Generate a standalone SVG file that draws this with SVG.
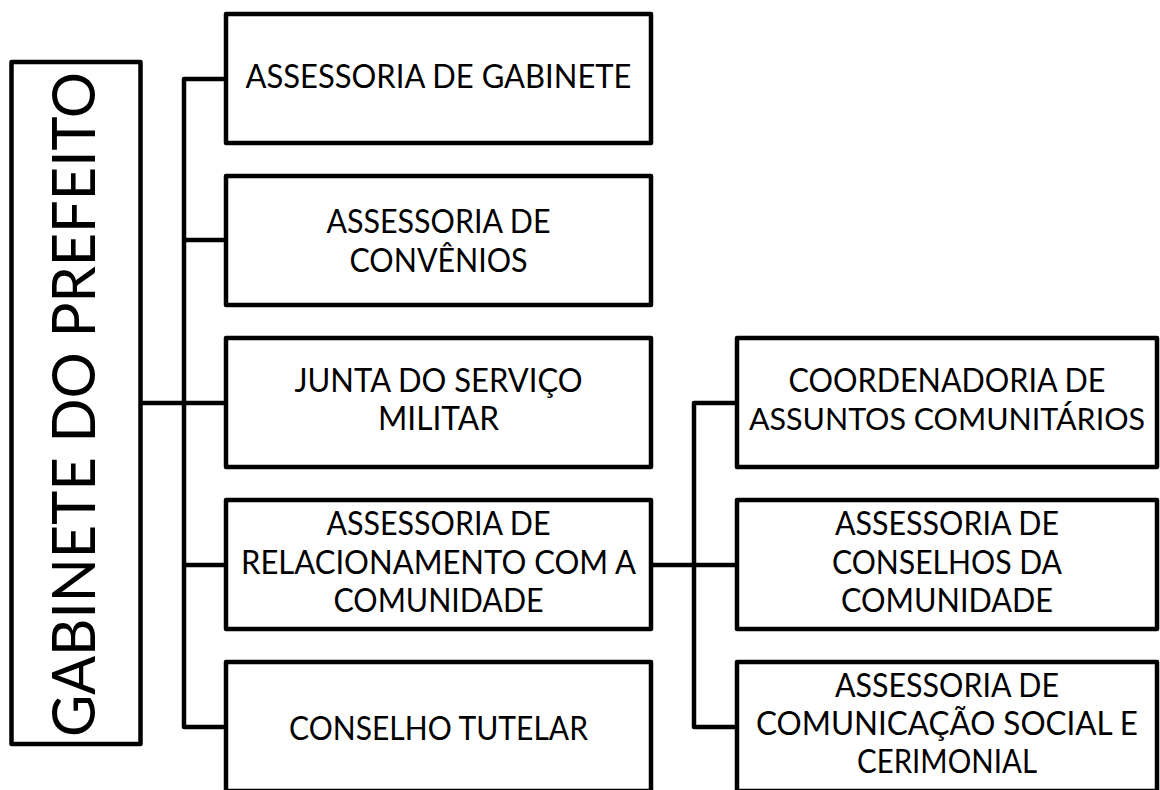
<svg xmlns="http://www.w3.org/2000/svg" width="1160" height="790" viewBox="0 0 1160 790">
<style>
.box{fill:#fff;stroke:#000;stroke-width:4.5;stroke-linejoin:round}
.conn{fill:none;stroke:#000;stroke-width:4.5;stroke-linejoin:round}
.t{font-family:Lato,"Open Sans","Liberation Sans",sans-serif;font-size:33px;fill:#000;text-anchor:middle}
.big{font-family:Lato,"Open Sans","Liberation Sans",sans-serif;font-size:60px;fill:#000;text-anchor:middle}
</style>
<rect width="1160" height="790" fill="#fff"/>
<g id="connectors">
<path class="conn" d="M226,79 H184 V727 H226"/>
<path class="conn" d="M184,240 H226"/>
<path class="conn" d="M140,403 H226"/>
<path class="conn" d="M184,565 H226"/>
<path class="conn" d="M737,403 H694 V727 H737"/>
<path class="conn" d="M651,565 H737"/>
</g>
<g id="gabinete-prefeito">
<rect class="box" x="11.5" y="62" width="129" height="682"/>
<text class="big" transform="translate(95,404.5) rotate(-90)" textLength="665" lengthAdjust="spacingAndGlyphs">GABINETE DO PREFEITO</text>
</g>
<g id="assessoria-gabinete">
<rect class="box" x="226" y="14" width="425" height="129"/>
<text class="t" x="438.5" y="88" textLength="386" lengthAdjust="spacingAndGlyphs">ASSESSORIA DE GABINETE</text>
</g>
<g id="assessoria-convenios">
<rect class="box" x="226" y="176" width="425" height="129"/>
<text class="t" x="438.5" y="233" textLength="224" lengthAdjust="spacingAndGlyphs">ASSESSORIA DE</text>
<text class="t" x="438.5" y="272" textLength="178" lengthAdjust="spacingAndGlyphs">CONVÊNIOS</text>
</g>
<g id="junta-servico-militar">
<rect class="box" x="226" y="338" width="425" height="129"/>
<text class="t" x="438.5" y="392" textLength="288" lengthAdjust="spacingAndGlyphs">JUNTA DO SERVIÇO</text>
<text class="t" x="438.5" y="430" textLength="121" lengthAdjust="spacingAndGlyphs">MILITAR</text>
</g>
<g id="assessoria-relacionamento">
<rect class="box" x="226" y="500" width="425" height="129"/>
<text class="t" x="438.5" y="535" textLength="224" lengthAdjust="spacingAndGlyphs">ASSESSORIA DE</text>
<text class="t" x="438.5" y="573.5" textLength="395" lengthAdjust="spacingAndGlyphs">RELACIONAMENTO COM A</text>
<text class="t" x="438.5" y="612" textLength="210" lengthAdjust="spacingAndGlyphs">COMUNIDADE</text>
</g>
<g id="conselho-tutelar">
<rect class="box" x="226" y="662" width="425" height="129"/>
<text class="t" x="438.5" y="740" textLength="299" lengthAdjust="spacingAndGlyphs">CONSELHO TUTELAR</text>
</g>
<g id="coordenadoria-assuntos">
<rect class="box" x="737" y="338" width="420" height="129"/>
<text class="t" x="947" y="392" textLength="317" lengthAdjust="spacingAndGlyphs">COORDENADORIA DE</text>
<text class="t" x="947" y="430" style="font-size:30px" textLength="396" lengthAdjust="spacingAndGlyphs">ASSUNTOS COMUNITÁRIOS</text>
</g>
<g id="assessoria-conselhos">
<rect class="box" x="737" y="500" width="420" height="129"/>
<text class="t" x="947" y="535" textLength="224" lengthAdjust="spacingAndGlyphs">ASSESSORIA DE</text>
<text class="t" x="947" y="573.5" textLength="230" lengthAdjust="spacingAndGlyphs">CONSELHOS DA</text>
<text class="t" x="947" y="612" textLength="212" lengthAdjust="spacingAndGlyphs">COMUNIDADE</text>
</g>
<g id="assessoria-comunicacao">
<rect class="box" x="737" y="662" width="420" height="129"/>
<text class="t" x="947" y="697" textLength="224" lengthAdjust="spacingAndGlyphs">ASSESSORIA DE</text>
<text class="t" x="947" y="735" textLength="382" lengthAdjust="spacingAndGlyphs">COMUNICAÇÃO SOCIAL E</text>
<text class="t" x="947" y="773" textLength="180" lengthAdjust="spacingAndGlyphs">CERIMONIAL</text>
</g>
</svg>
